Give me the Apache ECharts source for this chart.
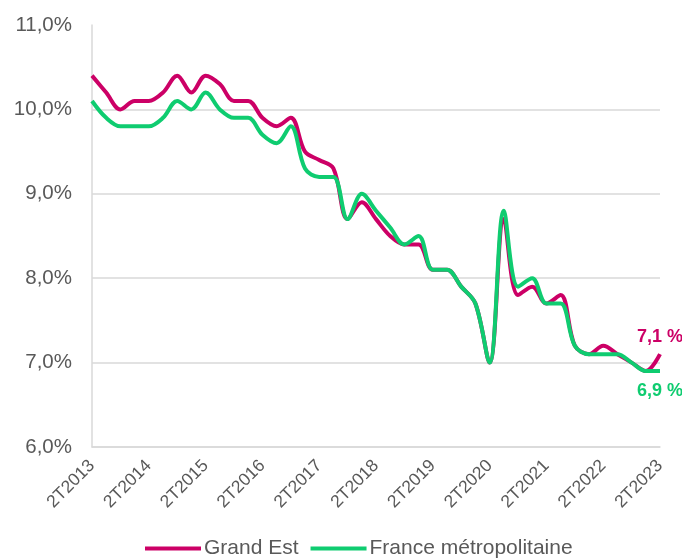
<!DOCTYPE html>
<html>
<head>
<meta charset="utf-8">
<script src="https://cdn.jsdelivr.net/npm/echarts@6/dist/echarts.min.js"></script>
<style>html,body{margin:0;padding:0;background:#fff}#c{width:682px;height:558px}</style>
</head>
<body>
<div id="c"></div>
<script>
const categories = [];
(function(){
  const qs = [];
  for (let y = 2013; y <= 2023; y++) for (let q = 1; q <= 4; q++) qs.push(q + 'T' + y);
  const s = qs.indexOf('2T2013'), e = qs.indexOf('2T2023');
  for (let i = s; i <= e; i++) categories.push(qs[i]);
})();
const grandEst = [10.4,10.2,10.0,10.1,10.1,10.2,10.4,10.2,10.4,10.3,10.1,10.1,9.9,9.8,9.9,9.5,9.4,9.3,8.7,8.9,8.7,8.5,8.4,8.4,8.1,8.1,7.9,7.7,7.0,8.7,7.8,7.9,7.7,7.8,7.2,7.1,7.2,7.1,7.0,6.9,7.1];
const france   = [10.1,9.9,9.8,9.8,9.8,9.9,10.1,10.0,10.2,10.0,9.9,9.9,9.7,9.6,9.8,9.3,9.2,9.2,8.7,9.0,8.8,8.6,8.4,8.5,8.1,8.1,7.9,7.7,7.0,8.8,7.9,8.0,7.7,7.7,7.2,7.1,7.1,7.1,7.0,6.9,6.9];
const yTicks = [6,7,8,9,10,11];
const seriesNames = ['Grand Est','France métropolitaine'];
const colors = ['#CC0066','#0FCC70'];
const FONT = 'Liberation Sans, Arial, sans-serif';

function endMark(arr, color, pos){
  const i = arr.length - 1;
  return {
    symbol:'circle', symbolSize:0, silent:true, animation:false,
    data:[{coord:[categories[i], arr[i]], value:arr[i]}],
    label:{show:true, position:pos, distance:(pos==='top'?8:11),
      formatter:(p)=> Number(p.value).toFixed(1).replace('.',',') + ' %',
      color:color, fontWeight:'bold', fontSize:18, fontFamily:FONT}
  };
}

const chart = echarts.init(document.getElementById('c'));
chart.setOption({
  animation:false,
  textStyle:{fontFamily:FONT},
  grid:{left:92, right:22, top:25, bottom:111, containLabel:false},
  legend:{bottom:-6, left:140, icon:'rect', itemWidth:56, itemHeight:4, itemGap:12,
    textStyle:{fontSize:21, color:'#595959', padding:[0,0,0,-2]}, data:seriesNames},
  xAxis:{type:'category', data:categories, boundaryGap:false,
    axisLine:{show:true, lineStyle:{color:'#D9D9D9', width:1.5}},
    axisTick:{show:false},
    axisLabel:{interval:3, rotate:45, fontSize:17.5, color:'#595959', margin:16},
    splitLine:{show:false}},
  yAxis:{type:'value', min:yTicks[0], max:yTicks[yTicks.length-1], interval:1,
    axisLine:{show:true, lineStyle:{color:'#D9D9D9', width:1.5}},
    axisTick:{show:false},
    axisLabel:{fontSize:20.5, color:'#595959', margin:20,
      formatter:(v)=> v.toFixed(1).replace('.',',') + '%'},
    splitLine:{show:true, lineStyle:{color:['#D9D9D9','#D9D9D9','#D9D9D9','#D9D9D9','#D9D9D9','rgba(0,0,0,0)'], width:1.5}}},
  series:[
    {name:seriesNames[0], type:'line', data:grandEst, smooth:0.35, symbol:'none',
      lineStyle:{color:colors[0], width:4}, itemStyle:{color:colors[0]}, z:2,
      markPoint:endMark(grandEst, colors[0], 'top')},
    {name:seriesNames[1], type:'line', data:france, smooth:0.35, symbol:'none',
      lineStyle:{color:colors[1], width:4}, itemStyle:{color:colors[1]}, z:3,
      markPoint:endMark(france, colors[1], 'bottom')}
  ]
});
</script>
</body>
</html>
